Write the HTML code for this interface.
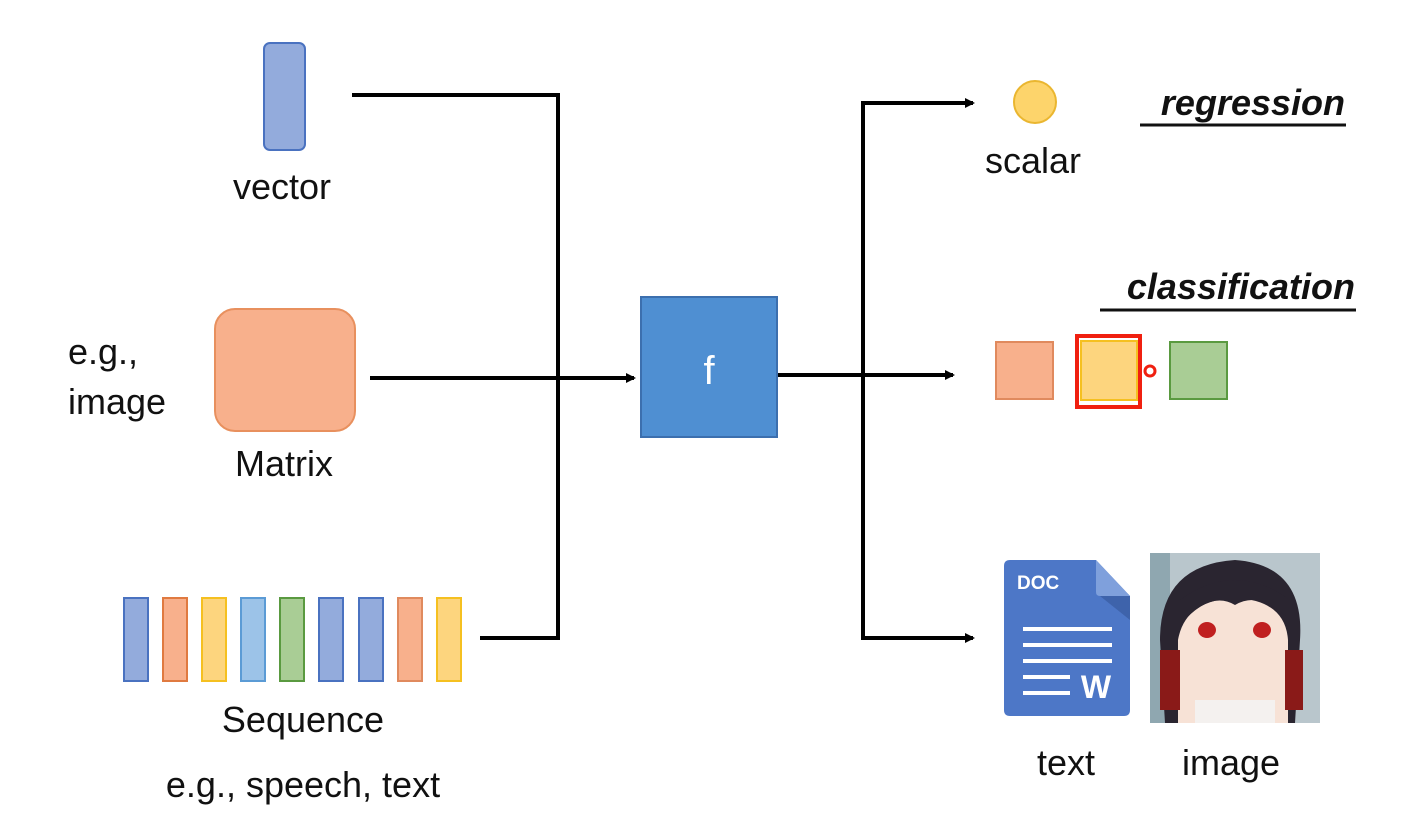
<!DOCTYPE html>
<html><head><style>
html,body{margin:0;padding:0;background:#fff;}
svg text{font-family:"Liberation Sans","DejaVu Sans",sans-serif;fill:#111;}
</style></head><body>
<svg width="1413" height="830" viewBox="0 0 1413 830" xmlns="http://www.w3.org/2000/svg">
<defs>
<marker id="ah" markerWidth="10" markerHeight="10" refX="8" refY="5" orient="auto" markerUnits="userSpaceOnUse" viewBox="0 0 10 10">
<path d="M0,0 L10,5 L0,10 z" fill="#000"/></marker>
</defs>
<!-- vector -->
<rect x="264" y="43" width="41" height="107" rx="6" fill="#93abdc" stroke="#4a72c0" stroke-width="2"/>
<text x="282" y="199" font-size="36" text-anchor="middle">vector</text>
<!-- matrix -->
<rect x="215" y="309" width="140" height="122" rx="20" fill="#f8b08c" stroke="#e8905e" stroke-width="2"/>
<text x="284" y="476" font-size="36" text-anchor="middle">Matrix</text>
<text x="68" y="364" font-size="36">e.g.,</text>
<text x="68" y="414" font-size="36">image</text>
<!-- sequence -->
<g stroke-width="2">
<rect x="124" y="598" width="24" height="83" fill="#93abdc" stroke="#4a72c0"/>
<rect x="163" y="598" width="24" height="83" fill="#f8b08c" stroke="#e07a40"/>
<rect x="202" y="598" width="24" height="83" fill="#fdd57e" stroke="#f5c020"/>
<rect x="241" y="598" width="24" height="83" fill="#9cc3e8" stroke="#5b9bd5"/>
<rect x="280" y="598" width="24" height="83" fill="#a9cd95" stroke="#5a9a40"/>
<rect x="319" y="598" width="24" height="83" fill="#93abdc" stroke="#4a72c0"/>
<rect x="359" y="598" width="24" height="83" fill="#93abdc" stroke="#4a72c0"/>
<rect x="398" y="598" width="24" height="83" fill="#f8b08c" stroke="#e08a5e"/>
<rect x="437" y="598" width="24" height="83" fill="#fdd57e" stroke="#f5c020"/>
</g>
<text x="303" y="732" font-size="36" text-anchor="middle">Sequence</text>
<text x="303" y="797" font-size="36" text-anchor="middle">e.g., speech, text</text>
<!-- connectors left -->
<g stroke="#000" stroke-width="4" fill="none">
<polyline points="352,95 558,95 558,638 480,638"/>
<line x1="370" y1="378" x2="634" y2="378" marker-end="url(#ah)"/>
<line x1="777" y1="375" x2="953" y2="375" marker-end="url(#ah)"/>
<polyline points="973,103 863,103 863,638 973,638"/>
<line x1="863" y1="103" x2="973" y2="103" marker-end="url(#ah)"/>
<line x1="863" y1="638" x2="973" y2="638" marker-end="url(#ah)"/>
</g>
<!-- f -->
<rect x="641" y="297" width="136" height="140" fill="#4f8fd2" stroke="#3c6fae" stroke-width="2"/>
<text x="709" y="384" font-size="40" text-anchor="middle" style="fill:#fff">f</text>
<!-- scalar -->
<circle cx="1035" cy="102" r="21" fill="#fdd46b" stroke="#eab630" stroke-width="2"/>
<text x="1033" y="173" font-size="36" text-anchor="middle">scalar</text>
<text x="1345" y="115" font-size="36" font-weight="bold" font-style="italic" text-anchor="end">regression</text>
<line x1="1140" y1="125" x2="1346" y2="125" stroke="#111" stroke-width="3"/>
<text x="1355" y="299" font-size="36" font-weight="bold" font-style="italic" text-anchor="end">classification</text>
<line x1="1100" y1="310" x2="1356" y2="310" stroke="#111" stroke-width="3"/>
<!-- classes -->
<rect x="996" y="342" width="57" height="57" fill="#f8b08c" stroke="#e08a5e" stroke-width="2"/>
<rect x="1081" y="341" width="56" height="59" fill="#fdd57e" stroke="#f5c020" stroke-width="2"/>
<rect x="1077" y="336" width="63" height="71" fill="none" stroke="#f02010" stroke-width="4"/>
<circle cx="1150" cy="371" r="5" fill="#fff" stroke="#f02010" stroke-width="3"/>
<rect x="1170" y="342" width="57" height="57" fill="#a9cd95" stroke="#5a9a40" stroke-width="2"/>
<!-- doc icon -->
<path d="M1010,560 L1096,560 L1130,596 L1130,710 Q1130,716 1124,716 L1010,716 Q1004,716 1004,710 L1004,566 Q1004,560 1010,560 Z" fill="#4d77c7"/>
<path d="M1096,560 L1130,596 L1100,596 Q1096,596 1096,592 Z" fill="#7fa0dc"/>
<path d="M1100,596 L1130,596 L1130,620 Z" fill="#3e63ab"/>
<text x="1017" y="589" font-size="19" font-weight="bold" style="fill:#fff">DOC</text>
<g stroke="#fff" stroke-width="4">
<line x1="1023" y1="629" x2="1112" y2="629"/>
<line x1="1023" y1="645" x2="1112" y2="645"/>
<line x1="1023" y1="661" x2="1112" y2="661"/>
<line x1="1023" y1="677" x2="1070" y2="677"/>
<line x1="1023" y1="693" x2="1070" y2="693"/>
</g>
<text x="1096" y="698" font-size="32" font-weight="bold" text-anchor="middle" style="fill:#fff">W</text>
<!-- anime image approximation -->
<rect x="1150" y="553" width="170" height="170" fill="#b9c6cc"/>
<rect x="1150" y="553" width="20" height="170" fill="#8fa7b0"/>
<path d="M1165,723 L1160,640 Q1160,565 1235,560 Q1305,565 1300,640 L1295,723 Z" fill="#2a2530"/>
<path d="M1178,723 L1178,640 Q1185,600 1235,598 Q1285,600 1288,640 L1288,723 Z" fill="#f7e2d6"/>
<path d="M1180,600 Q1235,560 1290,600 L1290,620 Q1260,590 1235,605 Q1210,590 1180,625 Z" fill="#2a2530"/>
<rect x="1160" y="650" width="20" height="60" fill="#8a1a18"/>
<rect x="1285" y="650" width="18" height="60" fill="#8a1a18"/>
<ellipse cx="1207" cy="630" rx="9" ry="8" fill="#c02020"/>
<ellipse cx="1262" cy="630" rx="9" ry="8" fill="#c02020"/>
<rect x="1195" y="700" width="80" height="23" fill="#f4f1ef"/>
<text x="1066" y="775" font-size="36" text-anchor="middle">text</text>
<text x="1231" y="775" font-size="36" text-anchor="middle">image</text>
</svg>
</body></html>
